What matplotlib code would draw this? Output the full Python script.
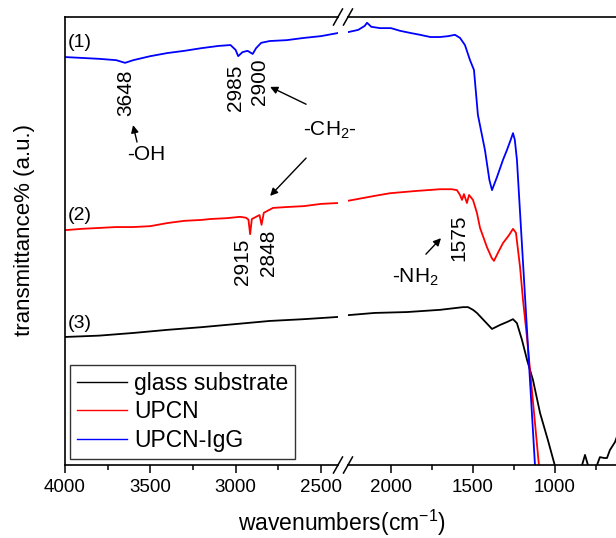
import matplotlib
matplotlib.use('Agg')
import matplotlib.pyplot as plt
from matplotlib.lines import Line2D
from matplotlib.ticker import FixedLocator

plt.rcParams['font.family'] = ['Liberation Sans', 'DejaVu Sans']
plt.rcParams['mathtext.fontset'] = 'custom'
plt.rcParams['mathtext.rm'] = 'Liberation Sans'
plt.rcParams['mathtext.it'] = 'Liberation Sans:italic'
plt.rcParams['mathtext.default'] = 'regular'

# ---------------- data (wavenumber cm-1, transmittance a.u.) ----------------
# (1) UPCN-IgG  (blue)
igg_left_wn = [4000, 3900, 3800, 3700, 3648, 3600, 3500, 3400, 3300, 3200, 3100, 3030,
               3000, 2985, 2960, 2930, 2900, 2880, 2850, 2800, 2700, 2600, 2500, 2400]
igg_left_t = [91.0, 90.8, 90.6, 90.3, 89.7, 90.3, 91.2, 91.9, 92.4, 93.0, 93.5, 93.7,
              92.6, 91.2, 92.1, 92.4, 91.7, 93.0, 94.2, 94.6, 94.8, 95.3, 95.7, 96.4]
igg_right_wn = [2262, 2200, 2160, 2146, 2120, 2067, 2000, 1945, 1880, 1823, 1760, 1701,
                1650, 1610, 1579, 1549, 1518, 1494, 1470, 1427, 1400, 1384, 1354, 1317,
                1293, 1270, 1256, 1245, 1232, 1122, 1080]
igg_right_t = [96.6, 97.1, 98.0, 98.7, 97.8, 97.5, 97.5, 96.9, 96.4, 96.0, 95.5, 95.5,
               95.7, 96.0, 95.3, 93.7, 90.3, 88.1, 78.0, 70.1, 63.4, 61.1, 64.0, 67.9,
               70.1, 72.4, 73.9, 72.4, 67.9, -0.7, -25.0]

# (2) UPCN  (red)
upcn_left_wn = [4000, 3900, 3800, 3700, 3600, 3500, 3400, 3300, 3200, 3150, 3050, 2974,
                2940, 2925, 2915, 2905, 2880, 2860, 2848, 2835, 2781, 2700, 2600, 2500, 2400]
upcn_left_t = [52.1, 52.4, 52.6, 52.8, 52.8, 53.0, 53.7, 54.2, 54.4, 54.6, 54.8, 55.1,
               54.9, 54.5, 51.2, 54.6, 55.1, 55.5, 53.3, 56.0, 57.1, 57.3, 57.5, 58.0, 58.2]
upcn_right_wn = [2262, 2100, 2006, 1850, 1701, 1630, 1598, 1579, 1567, 1555, 1537, 1524,
                 1500, 1476, 1457, 1415, 1385, 1372, 1348, 1317, 1280, 1256, 1238, 1213,
                 1195, 1171, 1098, 1060]
upcn_right_t = [58.7, 59.8, 60.4, 60.9, 61.3, 61.3, 61.1, 60.0, 58.9, 60.2, 58.2, 60.0,
                58.9, 56.0, 52.6, 48.3, 45.8, 45.2, 47.0, 49.2, 51.0, 52.4, 51.5, 43.8,
                36.4, 28.1, -0.7, -25.0]

# (3) glass substrate  (black)
glass_left_wn = [4000, 3800, 3600, 3400, 3200, 3000, 2800, 2600, 2400]
glass_left_t = [28.1, 28.4, 29.0, 29.7, 30.3, 31.0, 31.7, 32.1, 32.6]
glass_right_wn = [2262, 2100, 1902, 1700, 1561, 1530, 1500, 1476, 1430, 1384, 1335, 1290,
                  1256, 1232, 1201, 1170, 1134, 1091, 1043, 1000, 950, 880, 835, 817, 799,
                  770, 744, 726, 700, 683, 665, 634, 600]
glass_right_t = [33.0, 33.5, 33.7, 34.2, 34.8, 34.8, 34.2, 33.5, 31.7, 29.9, 30.8, 31.5,
                 32.1, 31.2, 27.4, 22.9, 18.4, 11.0, 4.9, -0.9, -6.0, -4.0, -0.7, 1.6, -0.7,
                 -3.0, -0.7, 1.1, 0.9, 0.9, 2.7, 4.5, 8.0]

legend_labels = ['glass substrate', 'UPCN', 'UPCN-IgG']
colors = ['#000000', '#FF0000', '#0000FF']

left_ticks = [4000, 3500, 3000, 2500]
left_minor = [3750, 3250, 2750]
right_ticks = [2000, 1500, 1000]
right_minor = [1750, 1250, 750]

# ---------------- figure ----------------
W, H = 616, 538
fig = plt.figure(figsize=(W / 100, H / 100), dpi=100)

top_px, bot_px = 17, 465
b = (H - bot_px) / H
h = (bot_px - top_px) / H
ax1 = fig.add_axes([65 / W, b, (338 - 65) / W, h])
ax2 = fig.add_axes([348 / W, b, (653.4 - 348) / W, h])

ax1.set_xlim(4000, 2400)
ax2.set_xlim(2262, 400)
for ax in (ax1, ax2):
    ax.patch.set_visible(False)
    ax.set_ylim(-0.67, 100)
    ax.set_yticks([])
    for s in ax.spines.values():
        s.set_linewidth(1.2)
    ax.tick_params(axis='x', which='major', direction='out', length=6, width=1.1,
                   labelsize=13.5, pad=4)
    ax.tick_params(axis='x', which='minor', direction='out', length=3.3, width=1.1)
ax1.spines['right'].set_visible(False)
ax2.spines['left'].set_visible(False)
ax1.set_xticks(left_ticks)
ax1.xaxis.set_minor_locator(FixedLocator(left_minor))
ax2.set_xticks(right_ticks)
ax2.xaxis.set_minor_locator(FixedLocator(right_minor))

lw = 1.3
ax1.plot(glass_left_wn, glass_left_t, color=colors[0], lw=lw)
ax2.plot(glass_right_wn, glass_right_t, color=colors[0], lw=lw)
ax1.plot(upcn_left_wn, upcn_left_t, color=colors[1], lw=lw)
ax2.plot(upcn_right_wn, upcn_right_t, color=colors[1], lw=lw)
ax1.plot(igg_left_wn, igg_left_t, color=colors[2], lw=lw)
ax2.plot(igg_right_wn, igg_right_t, color=colors[2], lw=lw)

# break marks
for cx in (338, 348):
    for cy in (bot_px, top_px):
        fig.add_artist(Line2D([(cx - 4.5) / W, (cx + 4.5) / W],
                              [1 - (cy + 8) / H, 1 - (cy - 8) / H],
                              transform=fig.transFigure, color='k', lw=1.1))

# curve labels
for lab, yv in (('(1)', 94.2), ('(2)', 55.5), ('(3)', 31.2)):
    ax1.text(3912, yv, lab, fontsize=14, ha='center', va='center')

# peak labels
fs = 15
ax1.text(3642, 82.9, '3648', rotation=90, fontsize=fs, ha='center', va='center')
ax1.text(3003, 84.0, '2985', rotation=90, fontsize=fs, ha='center', va='center')
ax1.text(2863, 85.4, '2900', rotation=90, fontsize=fs, ha='center', va='center')
ax1.text(2957, 44.9, '2915', rotation=90, fontsize=fs, ha='center', va='center')
ax1.text(2810, 47.0, '2848', rotation=90, fontsize=fs, ha='center', va='center')
ax2.text(1585, 50.3, '1575', rotation=90, fontsize=fs, ha='center', va='center')

ax1.text(3525, 69.0, '-OH', fontsize=fs, ha='center', va='center')
ax1.text(2447, 74.6, '-CH$_2$-', fontsize=fs, ha='center', va='center')
ax2.text(1854, 41.6, '-NH$_2$', fontsize=fs, ha='center', va='center')

ap = dict(arrowstyle='-|>', color='k', lw=1.0, mutation_scale=11, shrinkA=0, shrinkB=0)
ax1.annotate('', xy=(3601, 75.7), xytext=(3578, 71.9), arrowprops=ap)
ax1.annotate('', xy=(2798, 84.3), xytext=(2587, 80.4), arrowprops=ap)
ax1.annotate('', xy=(2798, 59.8), xytext=(2587, 68.3), arrowprops=ap)
ax2.annotate('', xy=(1695, 50.3), xytext=(1787, 46.7), arrowprops=ap)

# legend
handles = [Line2D([], [], color=c, lw=1.0) for c in colors]
leg = fig.legend(handles, legend_labels, loc='lower left',
                 bbox_to_anchor=(70 / W, (H - 459) / H), borderaxespad=0,
                 fontsize=16.5, frameon=True, fancybox=False, framealpha=1,
                 edgecolor='#333333', borderpad=0.3, handlelength=2.2,
                 handletextpad=0.3, labelspacing=0.25)
leg.get_frame().set_linewidth(1.0)

# axis labels
fig.text(342 / W, 1 - 523 / H, 'wavenumbers(cm$^{-1}$)', fontsize=16.5,
         ha='center', va='center')
fig.text(25 / W, 1 - 230 / H, 'transmittance% (a.u.)', fontsize=16,
         rotation=90, ha='center', va='center')

fig.savefig('out.png', dpi=100)
